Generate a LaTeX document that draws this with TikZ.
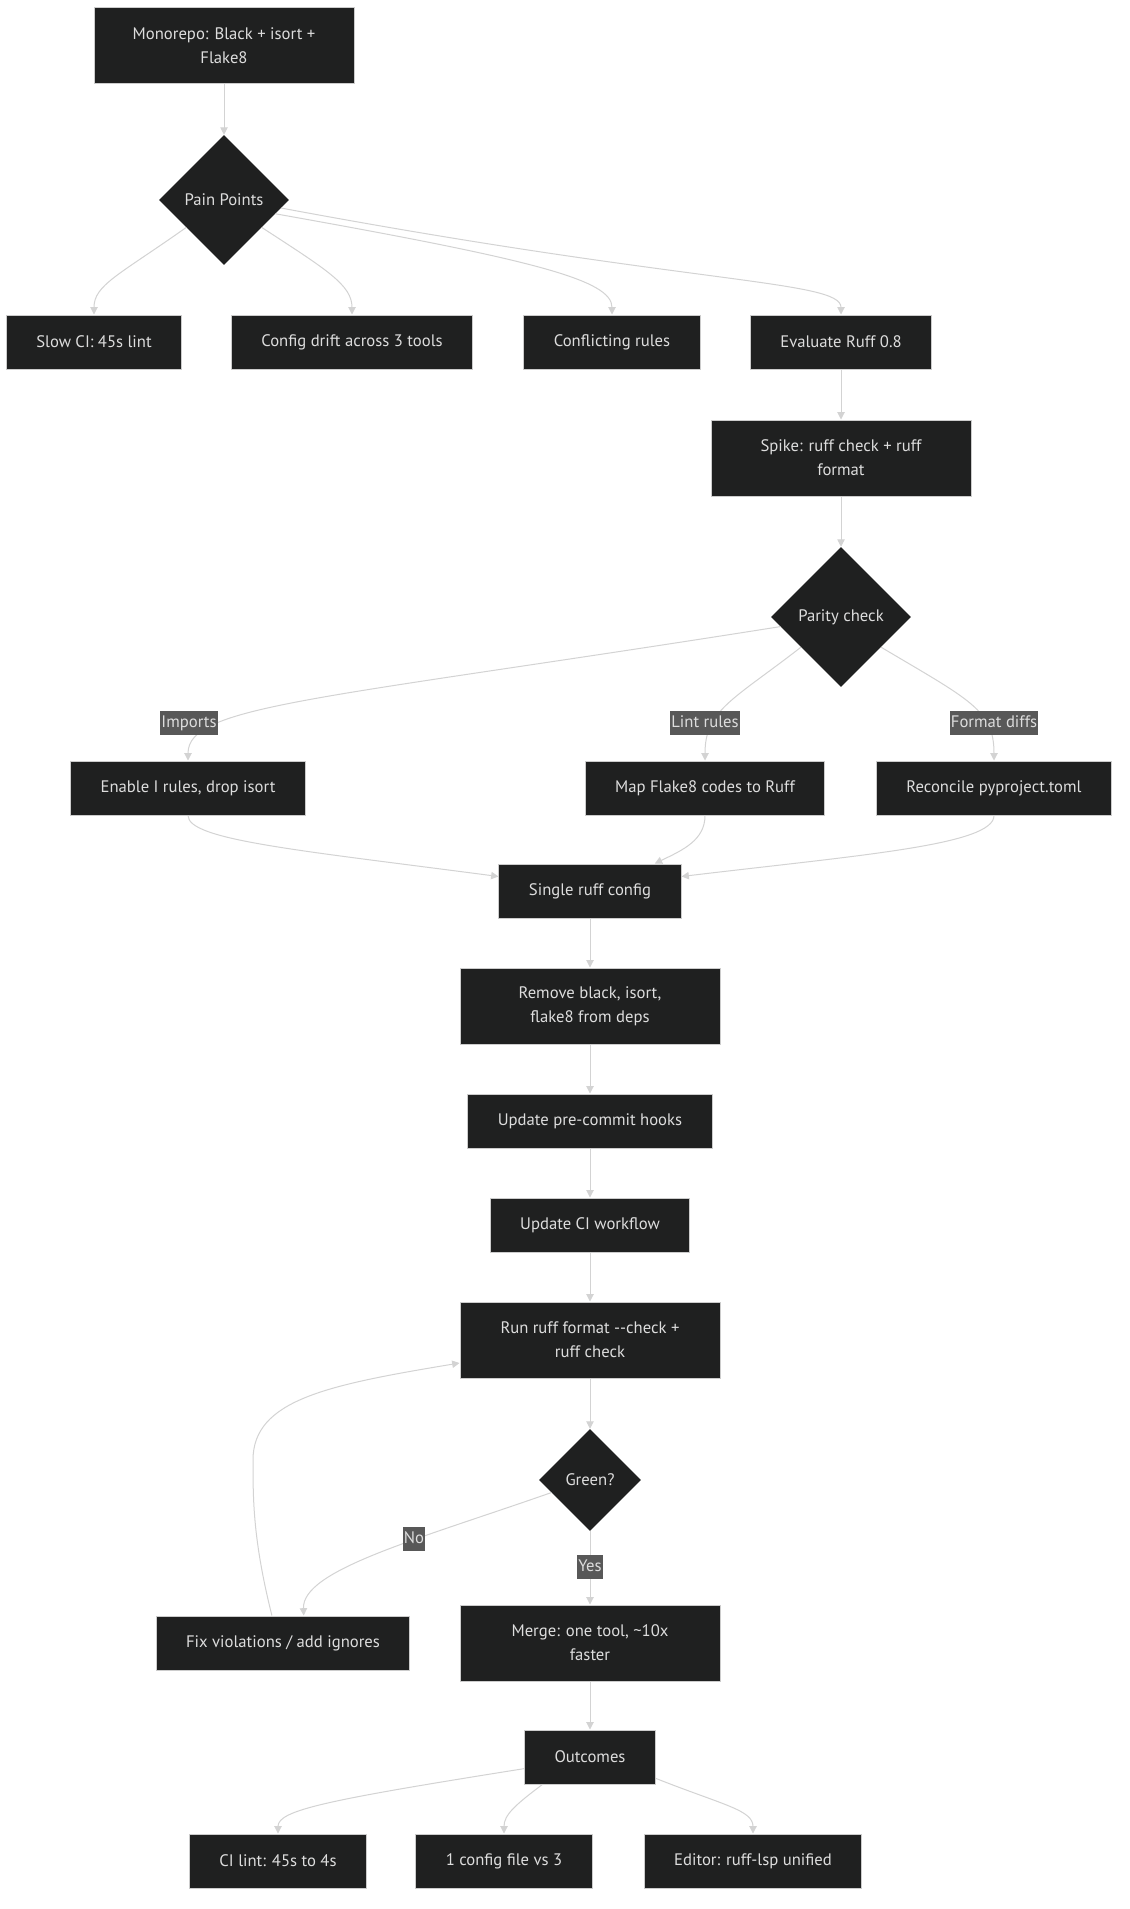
\documentclass[tikz,border=0pt]{standalone}
\usepackage{fontspec}
\setmainfont{PT Sans}
\usetikzlibrary{arrows.meta,shapes.geometric}
\definecolor{fcfill}{HTML}{1F2020}
\definecolor{fcborder}{HTML}{CCCCCC}
\definecolor{fctext}{HTML}{DDDDDD}
\definecolor{fcline}{HTML}{D3D3D3}
\definecolor{fclabel}{HTML}{585858}
\tikzset{
  fc_node/.style = {align=center, text=fctext,
    font=\fontsize{12.5}{18}\selectfont},% texte commun
  fc_box/.style = {fc_node, rectangle, fill=fcfill, draw=fcborder,
    line width=0.75pt, minimum height=40.5pt, inner xsep=22.5pt},% etape
  fc_box2/.style = {fc_box, minimum height=57pt, minimum width=195pt},% etape sur deux lignes
  fc_dec/.style = {fc_node, diamond, aspect=1, fill=fcfill, inner sep=0pt},% decision
  fc_lbl/.style = {fc_node, fill=fclabel, inner xsep=1pt, inner ysep=3pt,
    text height=9.3pt, text depth=2.6pt},% etiquette de lien
  fc_edge/.style = {draw=fcline, line width=0.75pt}% lien
}
\begin{document}
\begin{tikzpicture}[x=0.75pt, y=-0.75pt, ->, >={Triangle[length=5.5pt, width=5.5pt]}]
\fill [white, -] (0,0) rectangle (1129,1909);
\useasboundingbox (0,0) rectangle (1129,1909);

\node [fc_box2] (mono) at (224,46) {Monorepo: Black + isort +\\Flake8};
\node [fc_dec, minimum width=97.5pt, minimum height=97.5pt] (pain) at (224,200) {Pain Points};
\node [fc_box] (slowci) at (94,342) {Slow CI: 45s lint};
\node [fc_box] (drift) at (352,342) {Config drift across 3 tools};
\node [fc_box] (confl) at (612,342) {Conflicting rules};
\node [fc_box] (evalr) at (841,342) {Evaluate Ruff 0.8};
\node [fc_box2] (spike) at (841,458) {Spike: ruff check + ruff\\format};
\node [fc_dec, minimum width=105pt, minimum height=105pt] (parity) at (841,617) {Parity check};
\node [fc_box] (enable) at (188,788) {Enable I rules, drop isort};
\node [fc_box] (mapf) at (705,788) {Map Flake8 codes to Ruff};
\node [fc_box] (recon) at (994,788) {Reconcile pyproject.toml};
\node [fc_box] (single) at (590,891) {Single ruff config};
\node [fc_box2] (remove) at (590,1006) {Remove black, isort,\\flake8 from deps};
\node [fc_box] (precommit) at (590,1121) {Update pre-commit hooks};
\node [fc_box] (ciflow) at (590,1225) {Update CI workflow};
\node [fc_box2] (runr) at (590,1340) {Run ruff format {-}{-}check +\\ruff check};
\node [fc_dec, minimum width=76.5pt, minimum height=76.5pt] (green) at (590,1480) {Green?};
\node [fc_box] (fix) at (283,1643) {Fix violations / add ignores};
\node [fc_box2] (merge) at (590,1643) {Merge: one tool, \textasciitilde10x\\faster};
\node [fc_box] (outc) at (590,1757) {Outcomes};
\node [fc_box] (cilint) at (278,1861) {CI lint: 45s to 4s};
\node [fc_box] (onecfg) at (504,1861) {1 config file vs 3};
\node [fc_box] (editor) at (753,1861) {Editor: ruff-lsp unified};

\coordinate (imp_at) at (189,723);
\coordinate (lint_at) at (705,723);
\coordinate (fmt_at) at (994,723);
\coordinate (no_at) at (414,1539);
\coordinate (yes_at) at (590,1567);

\draw [fc_edge] (mono) -- (pain);
\draw [fc_edge] (pain.-144) .. controls (119,275) and (94,285) .. (slowci.north);
\draw [fc_edge] (pain.-36) .. controls (327,270) and (352,285) .. (drift.north);
\draw [fc_edge] (pain.-15) .. controls (535,260) and (612,280) .. (confl.north);
\draw [fc_edge] (pain.-8) .. controls (693,285) and (841,280) .. (evalr.north);
\draw [fc_edge] (evalr) -- (spike);
\draw [fc_edge] (spike) -- (parity);
\draw [fc_edge] (parity.-171) .. controls (317,700) and (188,705) .. (enable.north);
\draw [fc_edge] (parity.-143) .. controls (733,700) and (705,710) .. (mapf.north);
\draw [fc_edge] (parity.-37) .. controls (970,700) and (994,710) .. (recon.north);
\draw [fc_edge] (enable.south) .. controls (188,840) and (297,850) .. (single.171);
\draw [fc_edge] (mapf.south) .. controls (705,840) and (683,850) .. (single.23);
\draw [fc_edge] (recon.south) .. controls (994,845) and (861,855) .. (single.9);
\draw [fc_edge] (single) -- (remove);
\draw [fc_edge] (remove) -- (precommit);
\draw [fc_edge] (precommit) -- (ciflow);
\draw [fc_edge] (ciflow) -- (runr);
\draw [fc_edge] (runr) -- (green);
\draw [fc_edge] (green.-162) .. controls (416,1540) and (302,1570) .. (fix.53);
\draw [fc_edge] (fix.112) .. controls (253,1540) and (253,1500) .. (253,1460)
  .. controls (253,1400) and (327,1385) .. (runr.190);
\draw [fc_edge] (green) -- (merge);
\draw [fc_edge] (merge) -- (outc);
\draw [fc_edge] (outc.190) .. controls (327,1800) and (278,1810) .. (cilint.north);
\draw [fc_edge] (outc.210) .. controls (515,1805) and (504,1815) .. (onecfg.north);
\draw [fc_edge] (outc.-18) .. controls (723,1805) and (753,1810) .. (editor.north);

\node [fc_lbl] (imp) at (imp_at) {Imports};
\node [fc_lbl] (lint) at (lint_at) {Lint rules};
\node [fc_lbl] (fmt) at (fmt_at) {Format diffs};
\node [fc_lbl] (no) at (no_at) {No};
\node [fc_lbl] (yes) at (yes_at) {Yes};
\end{tikzpicture}
\end{document}
